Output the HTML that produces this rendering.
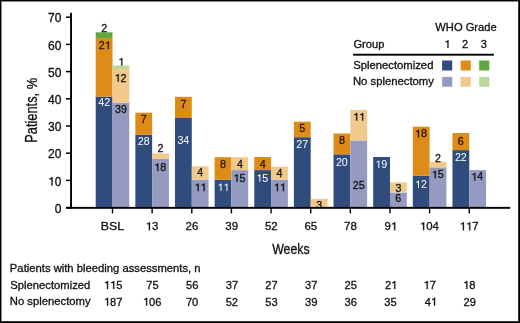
<!DOCTYPE html>
<html><head><meta charset="utf-8"><style>
html,body{margin:0;padding:0;background:#fff;}
body{width:520px;height:323px;overflow:hidden;}
svg{display:block;will-change:transform;stroke-width:0.3px;font-family:"Liberation Sans", sans-serif;}
</style></head><body>
<svg width="520" height="323" viewBox="0 0 520 323">
<rect x="0" y="0" width="520" height="323" fill="#fff"/>
<rect x="95.70" y="96.60" width="16.80" height="111.25" fill="#2f4c7c"/>
<rect x="95.70" y="38.10" width="16.80" height="58.50" fill="#dc8c17"/>
<rect x="95.70" y="32.30" width="16.80" height="5.80" fill="#62a840"/>
<rect x="112.50" y="102.60" width="16.80" height="105.25" fill="#959bc0"/>
<rect x="112.50" y="69.10" width="16.80" height="33.50" fill="#f2c98b"/>
<rect x="112.50" y="65.50" width="16.80" height="3.60" fill="#bad89b"/>
<rect x="135.34" y="134.70" width="16.80" height="73.15" fill="#2f4c7c"/>
<rect x="135.34" y="112.70" width="16.80" height="22.00" fill="#dc8c17"/>
<rect x="152.14" y="158.90" width="16.80" height="48.95" fill="#959bc0"/>
<rect x="152.14" y="153.40" width="16.80" height="5.50" fill="#f2c98b"/>
<rect x="174.98" y="118.00" width="16.80" height="89.85" fill="#2f4c7c"/>
<rect x="174.98" y="96.80" width="16.80" height="21.20" fill="#dc8c17"/>
<rect x="191.78" y="179.70" width="16.80" height="28.15" fill="#959bc0"/>
<rect x="191.78" y="166.40" width="16.80" height="13.30" fill="#f2c98b"/>
<rect x="214.62" y="179.70" width="16.80" height="28.15" fill="#2f4c7c"/>
<rect x="214.62" y="157.20" width="16.80" height="22.50" fill="#dc8c17"/>
<rect x="231.42" y="170.10" width="16.80" height="37.75" fill="#959bc0"/>
<rect x="231.42" y="157.20" width="16.80" height="12.90" fill="#f2c98b"/>
<rect x="254.26" y="170.10" width="16.80" height="37.75" fill="#2f4c7c"/>
<rect x="254.26" y="157.00" width="16.80" height="13.10" fill="#dc8c17"/>
<rect x="271.06" y="179.70" width="16.80" height="28.15" fill="#959bc0"/>
<rect x="271.06" y="166.70" width="16.80" height="13.00" fill="#f2c98b"/>
<rect x="293.90" y="137.20" width="16.80" height="70.65" fill="#2f4c7c"/>
<rect x="293.90" y="121.70" width="16.80" height="15.50" fill="#dc8c17"/>
<rect x="310.70" y="198.90" width="16.80" height="8.95" fill="#f2c98b"/>
<rect x="333.54" y="154.30" width="16.80" height="53.55" fill="#2f4c7c"/>
<rect x="333.54" y="133.50" width="16.80" height="20.80" fill="#dc8c17"/>
<rect x="350.34" y="140.50" width="16.80" height="67.35" fill="#959bc0"/>
<rect x="350.34" y="109.90" width="16.80" height="30.60" fill="#f2c98b"/>
<rect x="373.18" y="157.00" width="16.80" height="50.85" fill="#2f4c7c"/>
<rect x="389.98" y="192.50" width="16.80" height="15.35" fill="#959bc0"/>
<rect x="389.98" y="182.40" width="16.80" height="10.10" fill="#f2c98b"/>
<rect x="412.82" y="175.70" width="16.80" height="32.15" fill="#2f4c7c"/>
<rect x="412.82" y="126.70" width="16.80" height="49.00" fill="#dc8c17"/>
<rect x="429.62" y="167.40" width="16.80" height="40.45" fill="#959bc0"/>
<rect x="429.62" y="161.80" width="16.80" height="5.60" fill="#f2c98b"/>
<rect x="452.46" y="150.10" width="16.80" height="57.75" fill="#2f4c7c"/>
<rect x="452.46" y="133.00" width="16.80" height="17.10" fill="#dc8c17"/>
<rect x="469.26" y="170.10" width="16.80" height="37.75" fill="#959bc0"/>
<clipPath id="cp"><rect x="0" y="0" width="520" height="206.9"/></clipPath>
<text x="101.13" y="31.57" font-size="10.70" fill="#111" stroke="#111">2</text>
<path transform="translate(104.80,48.92) scale(0.00522,-0.00522)" d="M768 0V1440H614C584 1311 492 1229 215 1208V1075H578V0Z" fill="#2a1200" stroke="#2a1200" vector-effect="non-scaling-stroke"/>
<text x="98.85" y="48.92" font-size="10.70" fill="#2a1200" stroke="#2a1200">2 </text>
<text x="98.30" y="106.27" font-size="10.70" fill="#fff">42</text>
<path transform="translate(118.33,65.42) scale(0.00522,-0.00522)" d="M768 0V1440H614C584 1311 492 1229 215 1208V1075H578V0Z" fill="#111" stroke="#111" vector-effect="non-scaling-stroke"/>
<text x="118.33" y="65.42" font-size="10.70" fill="#111" stroke="#111"> </text>
<path transform="translate(114.66,81.52) scale(0.00522,-0.00522)" d="M768 0V1440H614C584 1311 492 1229 215 1208V1075H578V0Z" fill="#111" stroke="#111" vector-effect="non-scaling-stroke"/>
<text x="114.66" y="81.52" font-size="10.70" fill="#111" stroke="#111"> 2</text>
<text x="115.00" y="112.87" font-size="10.70" fill="#111" stroke="#111">39</text>
<text x="140.76" y="123.46" font-size="10.70" fill="#2a1200" stroke="#2a1200">7</text>
<text x="137.75" y="144.77" font-size="10.70" fill="#fff">28</text>
<text x="157.57" y="152.47" font-size="10.70" fill="#111" stroke="#111">2</text>
<path transform="translate(154.26,171.02) scale(0.00522,-0.00522)" d="M768 0V1440H614C584 1311 492 1229 215 1208V1075H578V0Z" fill="#111" stroke="#111" vector-effect="non-scaling-stroke"/>
<text x="154.26" y="171.02" font-size="10.70" fill="#111" stroke="#111"> 8</text>
<text x="180.40" y="107.76" font-size="10.70" fill="#2a1200" stroke="#2a1200">7</text>
<text x="177.38" y="144.47" font-size="10.70" fill="#fff">34</text>
<text x="197.24" y="176.46" font-size="10.70" fill="#111" stroke="#111">4</text>
<path transform="translate(194.64,191.12) scale(0.00522,-0.00522)" d="M768 0V1440H614C584 1311 492 1229 215 1208V1075H578V0Z" fill="#111" stroke="#111" vector-effect="non-scaling-stroke"/>
<path transform="translate(200.59,191.12) scale(0.00522,-0.00522)" d="M768 0V1440H614C584 1311 492 1229 215 1208V1075H578V0Z" fill="#111" stroke="#111" vector-effect="non-scaling-stroke"/>
<text x="194.64" y="191.12" font-size="10.70" fill="#111" stroke="#111">  </text>
<text x="220.05" y="168.17" font-size="10.70" fill="#2a1200" stroke="#2a1200">8</text>
<path transform="translate(217.48,191.12) scale(0.00522,-0.00522)" d="M768 0V1440H614C584 1311 492 1229 215 1208V1075H578V0Z" fill="#fff"/>
<path transform="translate(223.43,191.12) scale(0.00522,-0.00522)" d="M768 0V1440H614C584 1311 492 1229 215 1208V1075H578V0Z" fill="#fff"/>
<text x="217.48" y="191.12" font-size="10.70" fill="#fff">  </text>
<text x="236.88" y="168.06" font-size="10.70" fill="#111" stroke="#111">4</text>
<path transform="translate(233.53,181.82) scale(0.00522,-0.00522)" d="M768 0V1440H614C584 1311 492 1229 215 1208V1075H578V0Z" fill="#111" stroke="#111" vector-effect="non-scaling-stroke"/>
<text x="233.53" y="181.82" font-size="10.70" fill="#111" stroke="#111"> 5</text>
<text x="259.72" y="168.06" font-size="10.70" fill="#2a1200" stroke="#2a1200">4</text>
<path transform="translate(256.37,181.82) scale(0.00522,-0.00522)" d="M768 0V1440H614C584 1311 492 1229 215 1208V1075H578V0Z" fill="#fff"/>
<text x="256.37" y="181.82" font-size="10.70" fill="#fff"> 5</text>
<text x="276.52" y="176.96" font-size="10.70" fill="#111" stroke="#111">4</text>
<path transform="translate(273.92,191.12) scale(0.00522,-0.00522)" d="M768 0V1440H614C584 1311 492 1229 215 1208V1075H578V0Z" fill="#111" stroke="#111" vector-effect="non-scaling-stroke"/>
<path transform="translate(279.87,191.12) scale(0.00522,-0.00522)" d="M768 0V1440H614C584 1311 492 1229 215 1208V1075H578V0Z" fill="#111" stroke="#111" vector-effect="non-scaling-stroke"/>
<text x="273.92" y="191.12" font-size="10.70" fill="#111" stroke="#111">  </text>
<text x="299.34" y="132.06" font-size="10.70" fill="#2a1200" stroke="#2a1200">5</text>
<text x="296.35" y="148.47" font-size="10.70" fill="#fff">27</text>
<text x="316.16" y="208.57" font-size="10.70" fill="#111" stroke="#111" clip-path="url(#cp)">3</text>
<text x="338.97" y="144.17" font-size="10.70" fill="#2a1200" stroke="#2a1200">8</text>
<text x="335.93" y="165.77" font-size="10.70" fill="#fff">20</text>
<path transform="translate(353.20,120.62) scale(0.00522,-0.00522)" d="M768 0V1440H614C584 1311 492 1229 215 1208V1075H578V0Z" fill="#111" stroke="#111" vector-effect="non-scaling-stroke"/>
<path transform="translate(359.15,120.62) scale(0.00522,-0.00522)" d="M768 0V1440H614C584 1311 492 1229 215 1208V1075H578V0Z" fill="#111" stroke="#111" vector-effect="non-scaling-stroke"/>
<text x="353.20" y="120.62" font-size="10.70" fill="#111" stroke="#111">  </text>
<text x="352.75" y="189.17" font-size="10.70" fill="#111" stroke="#111">25</text>
<path transform="translate(375.32,167.92) scale(0.00522,-0.00522)" d="M768 0V1440H614C584 1311 492 1229 215 1208V1075H578V0Z" fill="#fff"/>
<text x="375.32" y="167.92" font-size="10.70" fill="#fff"> 9</text>
<text x="395.44" y="192.37" font-size="10.70" fill="#111" stroke="#111">3</text>
<text x="395.37" y="201.87" font-size="10.70" fill="#111" stroke="#111">6</text>
<path transform="translate(414.94,137.32) scale(0.00522,-0.00522)" d="M768 0V1440H614C584 1311 492 1229 215 1208V1075H578V0Z" fill="#2a1200" stroke="#2a1200" vector-effect="non-scaling-stroke"/>
<text x="414.94" y="137.32" font-size="10.70" fill="#2a1200" stroke="#2a1200"> 8</text>
<path transform="translate(414.98,188.02) scale(0.00522,-0.00522)" d="M768 0V1440H614C584 1311 492 1229 215 1208V1075H578V0Z" fill="#fff"/>
<text x="414.98" y="188.02" font-size="10.70" fill="#fff"> 2</text>
<text x="435.05" y="161.67" font-size="10.70" fill="#111" stroke="#111">2</text>
<path transform="translate(431.73,178.22) scale(0.00522,-0.00522)" d="M768 0V1440H614C584 1311 492 1229 215 1208V1075H578V0Z" fill="#111" stroke="#111" vector-effect="non-scaling-stroke"/>
<text x="431.73" y="178.22" font-size="10.70" fill="#111" stroke="#111"> 5</text>
<text x="457.85" y="145.07" font-size="10.70" fill="#2a1200" stroke="#2a1200">6</text>
<text x="454.91" y="160.87" font-size="10.70" fill="#fff">22</text>
<path transform="translate(471.30,180.42) scale(0.00522,-0.00522)" d="M768 0V1440H614C584 1311 492 1229 215 1208V1075H578V0Z" fill="#111" stroke="#111" vector-effect="non-scaling-stroke"/>
<text x="471.30" y="180.42" font-size="10.70" fill="#111" stroke="#111"> 4</text>
<rect x="70.10" y="12.8" width="1.9" height="196.00" fill="#000"/>
<rect x="66" y="206.90" width="444.30" height="1.9" fill="#000"/>
<rect x="66" y="206.85" width="5" height="1.5" fill="#000"/>
<text x="54.68" y="212.70" font-size="12.03" fill="#111" stroke="#111">0</text>
<rect x="66" y="179.65" width="5" height="1.5" fill="#000"/>
<path transform="translate(48.08,185.50) scale(0.00583,-0.00583)" d="M768 0V1440H614C584 1311 492 1229 215 1208V1075H578V0Z" fill="#111" stroke="#111" vector-effect="non-scaling-stroke"/>
<text x="48.08" y="185.50" font-size="11.95" fill="#111" stroke="#111"> 0</text>
<rect x="66" y="152.45" width="5" height="1.5" fill="#000"/>
<text x="47.99" y="158.30" font-size="12.03" fill="#111" stroke="#111">20</text>
<rect x="66" y="125.25" width="5" height="1.5" fill="#000"/>
<text x="47.99" y="131.10" font-size="12.03" fill="#111" stroke="#111">30</text>
<rect x="66" y="98.05" width="5" height="1.5" fill="#000"/>
<text x="47.99" y="103.90" font-size="12.03" fill="#111" stroke="#111">40</text>
<rect x="66" y="70.85" width="5" height="1.5" fill="#000"/>
<text x="47.99" y="76.70" font-size="12.03" fill="#111" stroke="#111">50</text>
<rect x="66" y="43.65" width="5" height="1.5" fill="#000"/>
<text x="47.99" y="49.50" font-size="12.03" fill="#111" stroke="#111">60</text>
<rect x="66" y="16.45" width="5" height="1.5" fill="#000"/>
<text x="47.99" y="22.30" font-size="12.03" fill="#111" stroke="#111">70</text>
<rect x="111.80" y="207.85" width="1.4" height="5.55" fill="#000"/>
<rect x="151.44" y="207.85" width="1.4" height="5.55" fill="#000"/>
<rect x="191.08" y="207.85" width="1.4" height="5.55" fill="#000"/>
<rect x="230.72" y="207.85" width="1.4" height="5.55" fill="#000"/>
<rect x="270.36" y="207.85" width="1.4" height="5.55" fill="#000"/>
<rect x="310.00" y="207.85" width="1.4" height="5.55" fill="#000"/>
<rect x="349.64" y="207.85" width="1.4" height="5.55" fill="#000"/>
<rect x="389.28" y="207.85" width="1.4" height="5.55" fill="#000"/>
<rect x="428.92" y="207.85" width="1.4" height="5.55" fill="#000"/>
<rect x="468.56" y="207.85" width="1.4" height="5.55" fill="#000"/>
<text x="100.89" y="230.00" font-size="10.89" fill="#111" stroke="#111" textLength="23.32" lengthAdjust="spacingAndGlyphs">BSL</text>
<path transform="translate(145.67,230.20) scale(0.00556,-0.00556)" d="M768 0V1440H614C584 1311 492 1229 215 1208V1075H578V0Z" fill="#111" stroke="#111" vector-effect="non-scaling-stroke"/>
<text x="145.67" y="230.20" font-size="11.38" fill="#111" stroke="#111"> 3</text>
<text x="185.57" y="230.20" font-size="11.46" fill="#111" stroke="#111">26</text>
<text x="225.30" y="230.20" font-size="11.46" fill="#111" stroke="#111">39</text>
<text x="264.94" y="230.20" font-size="11.46" fill="#111" stroke="#111">52</text>
<text x="304.48" y="230.20" font-size="11.46" fill="#111" stroke="#111">65</text>
<text x="344.12" y="230.20" font-size="11.46" fill="#111" stroke="#111">78</text>
<path transform="translate(390.94,230.20) scale(0.00556,-0.00556)" d="M768 0V1440H614C584 1311 492 1229 215 1208V1075H578V0Z" fill="#111" stroke="#111" vector-effect="non-scaling-stroke"/>
<text x="384.62" y="230.20" font-size="11.38" fill="#111" stroke="#111">9 </text>
<path transform="translate(419.90,230.20) scale(0.00556,-0.00556)" d="M768 0V1440H614C584 1311 492 1229 215 1208V1075H578V0Z" fill="#111" stroke="#111" vector-effect="non-scaling-stroke"/>
<text x="419.90" y="230.20" font-size="11.38" fill="#111" stroke="#111"> 04</text>
<path transform="translate(459.66,230.20) scale(0.00556,-0.00556)" d="M768 0V1440H614C584 1311 492 1229 215 1208V1075H578V0Z" fill="#111" stroke="#111" vector-effect="non-scaling-stroke"/>
<path transform="translate(465.99,230.20) scale(0.00556,-0.00556)" d="M768 0V1440H614C584 1311 492 1229 215 1208V1075H578V0Z" fill="#111" stroke="#111" vector-effect="non-scaling-stroke"/>
<text x="459.66" y="230.20" font-size="11.38" fill="#111" stroke="#111">  7</text>
<text x="272.14" y="253.75" font-size="14.14" fill="#111" stroke="#111" textLength="37.51" lengthAdjust="spacingAndGlyphs">Weeks</text>
<text transform="translate(37.00,141.70) rotate(-90)" x="-1.05" y="0" font-size="16.28" fill="#111" stroke="#111" textLength="49.91" lengthAdjust="spacingAndGlyphs">Patients,</text>
<text transform="translate(37.00,88.90) rotate(-90)" x="-0.47" y="0" font-size="15.14" fill="#111" stroke="#111" textLength="11.52" lengthAdjust="spacingAndGlyphs">%</text>
<text x="435.34" y="31.05" font-size="10.55" fill="#111" stroke="#111" textLength="61.35" lengthAdjust="spacingAndGlyphs">WHO Grade</text>
<text x="353.44" y="48.20" font-size="11.17" fill="#111" stroke="#111">Group</text>
<path transform="translate(444.37,47.90) scale(0.00535,-0.00535)" d="M768 0V1440H614C584 1311 492 1229 215 1208V1075H578V0Z" fill="#111" stroke="#111" vector-effect="non-scaling-stroke"/>
<text x="444.37" y="47.90" font-size="10.95" fill="#111" stroke="#111"> </text>
<text x="462.03" y="47.90" font-size="11.03" fill="#111" stroke="#111">2</text>
<text x="480.87" y="47.90" font-size="11.03" fill="#111" stroke="#111">3</text>
<rect x="353.1" y="53.75" width="140.8" height="1.9" fill="#000"/>
<text x="353.18" y="68.80" font-size="10.34" fill="#111" stroke="#111" textLength="80.24" lengthAdjust="spacingAndGlyphs">Splenectomized</text>
<text x="352.97" y="85.20" font-size="10.62" fill="#111" stroke="#111" textLength="80.95" lengthAdjust="spacingAndGlyphs">No splenectomy</text>
<rect x="442.10" y="60.50" width="10.10" height="10.00" fill="#2f4c7c"/>
<rect x="442.10" y="76.90" width="10.10" height="9.80" fill="#959bc0"/>
<rect x="460.65" y="60.50" width="10.10" height="10.00" fill="#dc8c17"/>
<rect x="460.65" y="76.90" width="10.10" height="9.80" fill="#f2c98b"/>
<rect x="479.20" y="60.50" width="10.10" height="10.00" fill="#62a840"/>
<rect x="479.20" y="76.90" width="10.10" height="9.80" fill="#bad89b"/>
<text x="9.88" y="271.90" font-size="10.62" fill="#111" stroke="#111" textLength="190.65" lengthAdjust="spacingAndGlyphs">Patients with bleeding assessments, n</text>
<text x="10.28" y="288.70" font-size="10.76" fill="#111" stroke="#111" textLength="80.04" lengthAdjust="spacingAndGlyphs">Splenectomized</text>
<text x="9.88" y="305.30" font-size="10.62" fill="#111" stroke="#111" textLength="80.64" lengthAdjust="spacingAndGlyphs">No splenectomy</text>
<path transform="translate(103.89,288.90) scale(0.00542,-0.00542)" d="M768 0V1440H614C584 1311 492 1229 215 1208V1075H578V0Z" fill="#111" stroke="#111" vector-effect="non-scaling-stroke"/>
<path transform="translate(110.07,288.90) scale(0.00542,-0.00542)" d="M768 0V1440H614C584 1311 492 1229 215 1208V1075H578V0Z" fill="#111" stroke="#111" vector-effect="non-scaling-stroke"/>
<text x="103.89" y="288.90" font-size="11.10" fill="#111" stroke="#111">  5</text>
<path transform="translate(103.94,305.60) scale(0.00542,-0.00542)" d="M768 0V1440H614C584 1311 492 1229 215 1208V1075H578V0Z" fill="#111" stroke="#111" vector-effect="non-scaling-stroke"/>
<text x="103.94" y="305.60" font-size="11.10" fill="#111" stroke="#111"> 87</text>
<text x="146.32" y="288.90" font-size="11.10" fill="#111" stroke="#111">75</text>
<path transform="translate(142.94,305.60) scale(0.00542,-0.00542)" d="M768 0V1440H614C584 1311 492 1229 215 1208V1075H578V0Z" fill="#111" stroke="#111" vector-effect="non-scaling-stroke"/>
<text x="142.94" y="305.60" font-size="11.10" fill="#111" stroke="#111"> 06</text>
<text x="186.03" y="288.90" font-size="11.10" fill="#111" stroke="#111">56</text>
<text x="185.94" y="305.60" font-size="11.10" fill="#111" stroke="#111">70</text>
<text x="225.72" y="288.90" font-size="11.10" fill="#111" stroke="#111">37</text>
<text x="225.70" y="305.60" font-size="11.10" fill="#111" stroke="#111">52</text>
<text x="265.29" y="288.90" font-size="11.10" fill="#111" stroke="#111">27</text>
<text x="265.31" y="305.60" font-size="11.10" fill="#111" stroke="#111">53</text>
<text x="304.99" y="288.90" font-size="11.10" fill="#111" stroke="#111">37</text>
<text x="304.98" y="305.60" font-size="11.10" fill="#111" stroke="#111">39</text>
<text x="344.52" y="288.90" font-size="11.10" fill="#111" stroke="#111">25</text>
<text x="344.60" y="305.60" font-size="11.10" fill="#111" stroke="#111">36</text>
<path transform="translate(391.11,288.90) scale(0.00542,-0.00542)" d="M768 0V1440H614C584 1311 492 1229 215 1208V1075H578V0Z" fill="#111" stroke="#111" vector-effect="non-scaling-stroke"/>
<text x="384.93" y="288.90" font-size="11.10" fill="#111" stroke="#111">2 </text>
<text x="384.23" y="305.60" font-size="11.10" fill="#111" stroke="#111">35</text>
<path transform="translate(423.54,288.90) scale(0.00542,-0.00542)" d="M768 0V1440H614C584 1311 492 1229 215 1208V1075H578V0Z" fill="#111" stroke="#111" vector-effect="non-scaling-stroke"/>
<text x="423.54" y="288.90" font-size="11.10" fill="#111" stroke="#111"> 7</text>
<path transform="translate(430.90,305.60) scale(0.00542,-0.00542)" d="M768 0V1440H614C584 1311 492 1229 215 1208V1075H578V0Z" fill="#111" stroke="#111" vector-effect="non-scaling-stroke"/>
<text x="424.72" y="305.60" font-size="11.10" fill="#111" stroke="#111">4 </text>
<path transform="translate(463.14,288.90) scale(0.00542,-0.00542)" d="M768 0V1440H614C584 1311 492 1229 215 1208V1075H578V0Z" fill="#111" stroke="#111" vector-effect="non-scaling-stroke"/>
<text x="463.14" y="288.90" font-size="11.10" fill="#111" stroke="#111"> 8</text>
<text x="463.47" y="305.60" font-size="11.10" fill="#111" stroke="#111">29</text>
<rect x="0" y="1" width="520" height="1" fill="#888"/>
<rect x="1" y="0" width="1" height="323" fill="#888"/>
<rect x="518" y="0" width="1" height="323" fill="#333"/>
<rect x="0" y="321" width="520" height="1" fill="#333"/>
<rect x="0" y="0" width="520" height="1" fill="#000"/>
<rect x="0" y="0" width="1" height="323" fill="#000"/>
<rect x="519" y="0" width="1" height="323" fill="#000"/>
<rect x="0" y="322" width="520" height="1" fill="#000"/>
</svg>
</body></html>
